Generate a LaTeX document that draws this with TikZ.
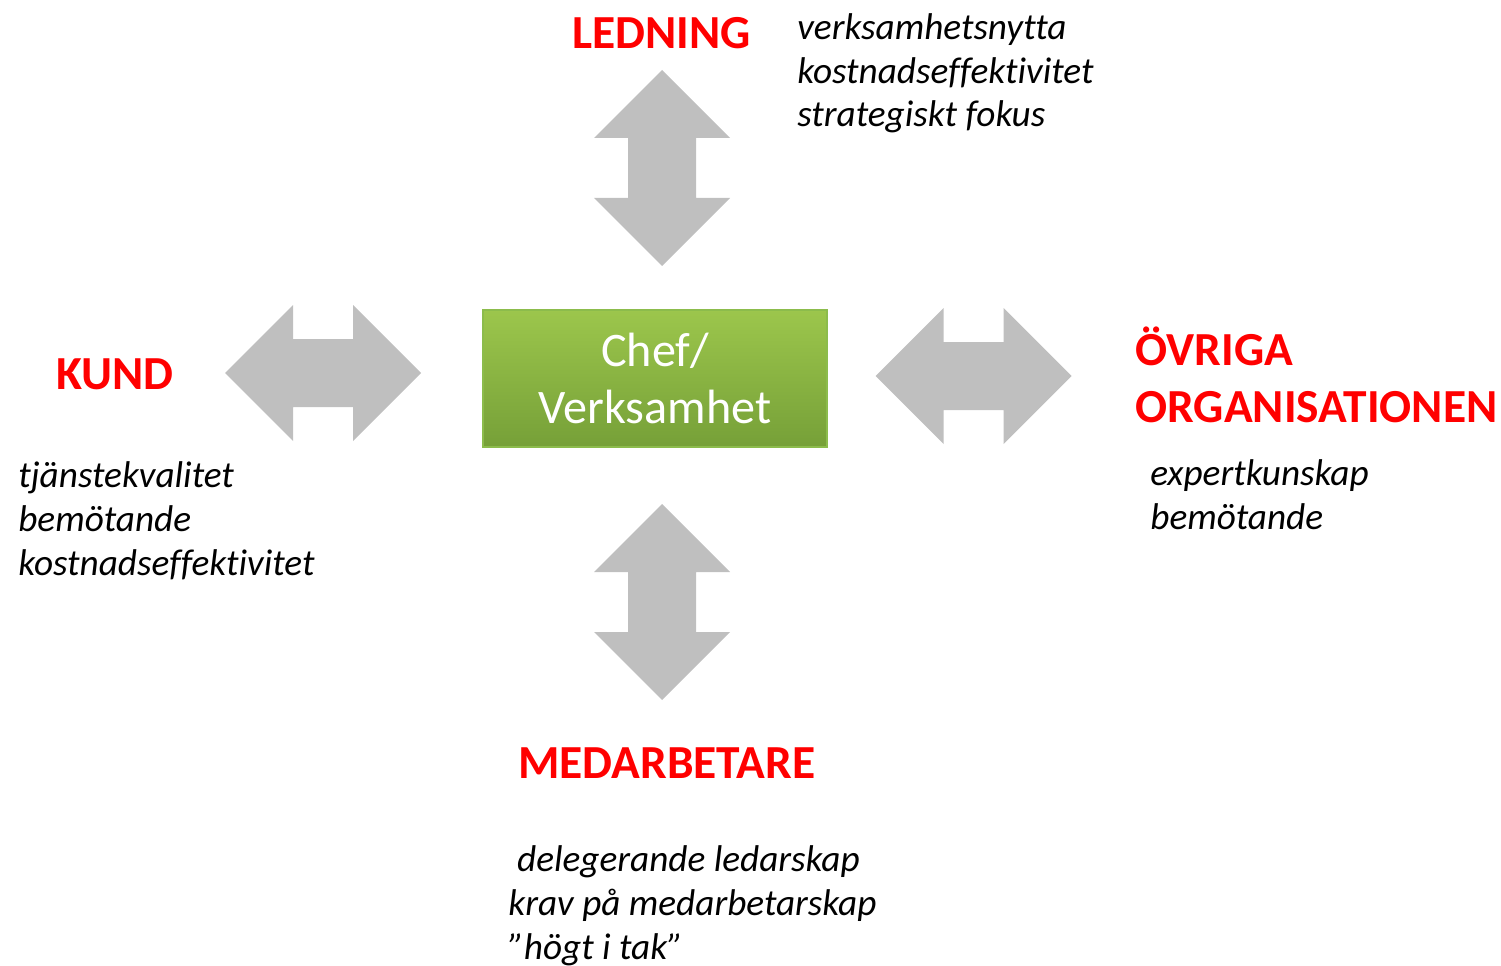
\documentclass[tikz,border=0pt]{standalone}
\usepackage{fontspec}
\setmainfont{Carlito}[Ligatures={TeX,NoCommon}]
\usetikzlibrary{positioning}
\definecolor{headred}{RGB}{255,0,0}
\definecolor{arrowgray}{RGB}{191,191,191}
\definecolor{boxtop}{RGB}{156,198,76}
\definecolor{boxbottom}{RGB}{118,160,56}
\definecolor{boxline}{RGB}{140,188,76}

\tikzset{
  heading/.style={anchor=base west, inner sep=0pt, text=headred,
    font=\fontsize{27}{32.4}\selectfont\bfseries, align=left},
  keywords/.style={anchor=base west, inner sep=0pt,
    font=\fontsize{21.2}{25}\selectfont\itshape, align=left},
  chefbox/.style={draw=boxline, line width=0.8pt, top color=boxtop, bottom color=boxbottom,
    minimum width=6.88cm, minimum height=2.74cm, text=white, align=center,
    font=\fontsize{27.4}{32}\selectfont},
  dblarrow/.pic={
    \fill[arrowgray] (-98,0) -- (-30,68) -- (-30,34) -- (30,34) -- (30,68) -- (98,0)
      -- (30,-68) -- (30,-34) -- (-30,-34) -- (-30,-68) -- cycle;
  }
}

\begin{document}
\begin{tikzpicture}[x=0.02cm, y=-0.02cm]
    \useasboundingbox (0,0) rectangle (1501,966);

    % Centre box
    \node[chefbox] (chef) at (655,378.5) {Chef/\\Verksamhet};

    % Double arrows round the box
    \pic[rotate=90] (ledarrow) at (662,168) {dblarrow};
    \pic[rotate=90] (medarrow) at (662,602) {dblarrow};
    \pic (kundarrow) at (323,373) {dblarrow};
    \pic (orgarrow) at (973.5,376) {dblarrow};

    % Ledning (base = last line)
    \node[heading] (ledning) at (572,49) {LEDNING};
    \node[keywords] (ledningtxt) at (797,127) {verksamhetsnytta\\kostnadseffektivitet\\strategiskt fokus};

    % Kund
    \node[heading] (kund) at (56,389) {KUND};
    \node[keywords] (kundtxt) at (18,575) {tjänstekvalitet\\bemötande\\kostnadseffektivitet};

    % Ovriga organisationen
    \node[heading] (org) at (1135,422) {ÖVRIGA\\ORGANISATIONEN};
    \node[keywords] (orgtxt) at (1150,529) {expertkunskap\\bemötande};

    % Medarbetare
    \node[heading] (med) at (518,778) {MEDARBETARE};
    \node[keywords] (medtxt) at (508,959) {\hspace*{5pt}delegerande ledarskap\\krav på medarbetarskap\\”högt i tak”};
\end{tikzpicture}
\end{document}
